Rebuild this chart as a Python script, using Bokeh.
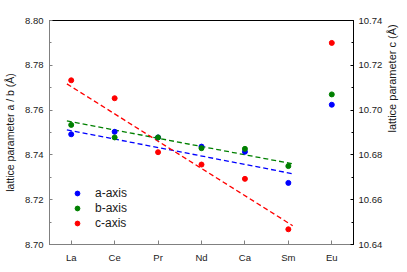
import math
from bokeh.plotting import figure
from bokeh.models import (Range1d, LinearAxis, FixedTicker, SingleIntervalTicker,
                          Legend, LegendItem, PrintfTickFormatter, ColumnDataSource, Label)
from bokeh.embed import file_html
from bokeh.resources import INLINE

# ---- data ----
categories = ["La", "Ce", "Pr", "Nd", "Ca", "Sm", "Eu"]
a_axis = [8.7492, 8.7503, 8.7478, 8.7437, 8.7414, 8.7275, 8.7624]
b_axis = [8.7534, 8.7478, 8.7478, 8.7430, 8.7427, 8.7350, 8.7670]
c_axis = [10.7133, 10.7053, 10.6812, 10.6757, 10.6693, 10.6468, 10.7300]
# linear trend lines (fitted over La..Sm): values at the two ends of the span
fit_span = ["La", "Sm"]
a_fit = [8.7512, 8.7316]
b_fit = [8.7552, 8.7360]
c_fit = [10.7117, 10.6484]

FONT = "Liberation Sans"
BLUE, GREEN, RED = "#0000ff", "#008000", "#ff0000"
GRAY = "#808080"
TXT = "#1a1a1a"

xs = list(range(len(categories)))
fit_x = [categories.index(fit_span[0]) - 0.1, categories.index(fit_span[1]) + 0.1]

p = figure(width=407, height=270, output_backend="svg", toolbar_location=None,
           x_range=Range1d(-0.5, len(categories) - 0.5), y_range=Range1d(8.70, 8.80),
           min_border_left=49, min_border_right=53, min_border_top=20, min_border_bottom=26)
p.extra_y_ranges = {"c": Range1d(10.64, 10.74)}
p.xgrid.visible = False
p.ygrid.visible = False
p.outline_line_color = "black"
p.outline_line_width = 1
p.background_fill_color = "white"
p.border_fill_color = "white"

# left axis
ya = p.yaxis[0]
ya.ticker = SingleIntervalTicker(interval=0.02, num_minor_ticks=2)
ya.formatter = PrintfTickFormatter(format="%.2f")
ya.axis_line_color = GRAY
ya.major_tick_line_color = GRAY
ya.minor_tick_line_color = GRAY
ya.major_tick_in = 3
ya.major_tick_out = 0
ya.minor_tick_in = 2
ya.minor_tick_out = 0
ya.major_label_text_font = FONT
ya.major_label_text_font_size = "9.5px"
ya.major_label_text_color = TXT
ya.major_label_standoff = 6
ya.axis_label = "lattice parameter a / b (Å)"
ya.axis_label_text_font = FONT
ya.axis_label_text_font_size = "10.5px"
ya.axis_label_text_font_style = "normal"
ya.axis_label_text_color = TXT
ya.axis_label_standoff = 6

# bottom axis
xa = p.xaxis[0]
xa.ticker = FixedTicker(ticks=xs, minor_ticks=[])
xa.major_label_overrides = {i: c for i, c in zip(xs, categories)}
xa.axis_line_color = GRAY
xa.major_tick_line_color = GRAY
xa.major_tick_in = 4
xa.major_tick_out = 0
xa.minor_tick_in = 0
xa.minor_tick_out = 0
xa.major_label_text_font = FONT
xa.major_label_text_font_size = "9.5px"
xa.major_label_text_color = TXT
xa.major_label_standoff = 7

# right axis
ra = LinearAxis(y_range_name="c",
                ticker=SingleIntervalTicker(interval=0.02, num_minor_ticks=2),
                formatter=PrintfTickFormatter(format="%.2f"))
ra.axis_line_color = "black"
ra.major_tick_line_color = "black"
ra.minor_tick_line_color = "black"
ra.major_tick_in = 3
ra.major_tick_out = 0
ra.minor_tick_in = 2
ra.minor_tick_out = 0
ra.major_label_text_font = FONT
ra.major_label_text_font_size = "9.5px"
ra.major_label_text_color = TXT
ra.major_label_standoff = 5

right_text = "lattice parameter c (Å)"
try:
    ra.axis_label_orientation = math.pi / 2   # read bottom-to-top
    ra.axis_label = right_text
    ra.axis_label_text_font = FONT
    ra.axis_label_text_font_size = "11px"
    ra.axis_label_text_font_style = "normal"
    ra.axis_label_text_color = TXT
    ra.axis_label_standoff = 7
    use_label = False
except Exception:
    use_label = True
p.add_layout(ra, "right")

if use_label:
    right_label = Label(x=42, y=130, x_units="screen", y_units="screen",
                        text=right_text, angle=90, angle_units="deg",
                        text_align="center", text_baseline="middle",
                        text_font=FONT, text_font_size="11px", text_color=TXT)
    p.add_layout(right_label, "right")

# trend lines
p.line(fit_x, a_fit, line_color=BLUE, line_width=1.3, line_dash="5 3")
p.line(fit_x, b_fit, line_color=GREEN, line_width=1.3, line_dash="5 3")
p.line(fit_x, c_fit, line_color=RED, line_width=1.3, line_dash="5 3", y_range_name="c")

# points
src = ColumnDataSource(dict(x=xs, a=a_axis, b=b_axis, c=c_axis))
ra_pts = p.scatter("x", "a", source=src, size=5, fill_color=BLUE, line_color=BLUE)
rb_pts = p.scatter("x", "b", source=src, size=5, fill_color=GREEN, line_color=GREEN)
rc_pts = p.scatter("x", "c", source=src, size=5, fill_color=RED, line_color=RED, y_range_name="c")

legend = Legend(items=[LegendItem(label="a-axis", renderers=[ra_pts]),
                       LegendItem(label="b-axis", renderers=[rb_pts]),
                       LegendItem(label="c-axis", renderers=[rc_pts])],
                location=(22, 14), padding=0, margin=0, spacing=1,
                glyph_width=12, glyph_height=14, label_height=14, label_standoff=12,
                label_text_font=FONT, label_text_font_size="12px", label_text_color=TXT,
                background_fill_alpha=0, border_line_color=None)
p.add_layout(legend, "center")

open("out.html", "w").write(file_html(p, INLINE))
